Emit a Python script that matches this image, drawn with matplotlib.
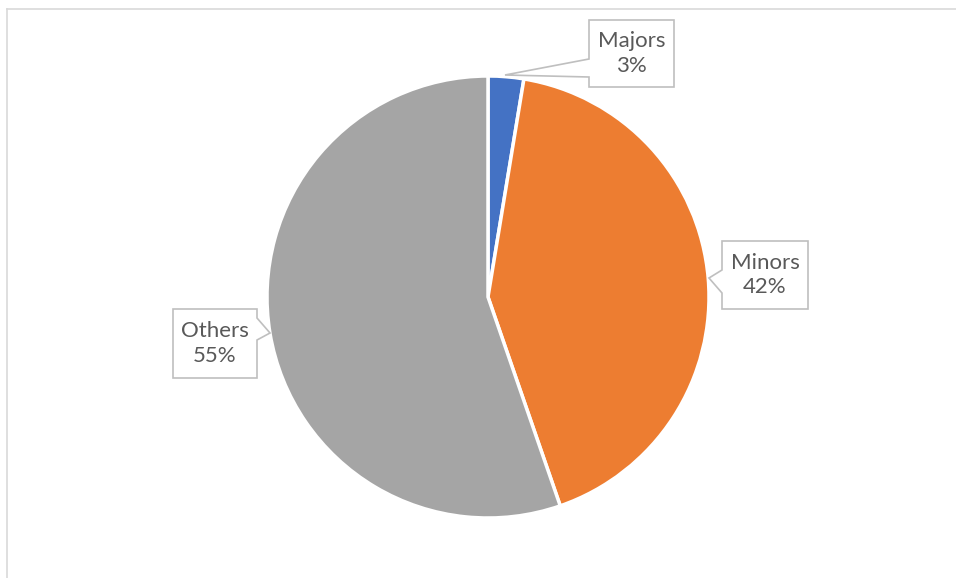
import numpy as np
import matplotlib.pyplot as plt
from matplotlib.patches import Polygon

plt.rcParams['font.family'] = ['Lato', 'DejaVu Sans']

categories = ['Majors', 'Minors', 'Others']
values = [2.6, 42.1, 55.3]
colors = ['#4472C4', '#ED7D31', '#A5A5A5']

# callout boxes in pixel coords (left, top, right, bottom), pointer tip, pointer base side
boxes = {
    'Majors': ((589, 20, 674, 87), (505, 75), ('left', 59, 77)),
    'Minors': ((722, 241, 808, 309), (709, 278), ('left', 270, 293)),
    'Others': ((173, 309, 257, 378), (270, 333), ('right', 318, 340)),
}

W, H = 956, 578
fig = plt.figure(figsize=(W / 100, H / 100), dpi=100)
ax = fig.add_axes([0, 0, 1, 1])

def py(y):
    return H - y

# chart area border (only top/left visible)
ax.plot([7, W], [py(9), py(9)], color='#D9D9D9', lw=1.2)
ax.plot([7, 7], [py(9), 0], color='#D9D9D9', lw=1.2)

ax.pie(values, colors=colors, startangle=90, counterclock=False,
       center=(488, py(297)), radius=221, frame=True,
       wedgeprops=dict(edgecolor='white', linewidth=2.5))
ax.set_xlim(0, W)
ax.set_ylim(0, H)
ax.set_aspect('equal')
ax.axis('off')

total = sum(values)
for cat, val in zip(categories, values):
    (l, t, r, b), tip, (side, y1, y2) = boxes[cat]
    if side == 'left':
        pts = [(l, t), (r, t), (r, b), (l, b), (l, y2), tip, (l, y1)]
    else:
        pts = [(l, t), (r, t), (r, y1), tip, (r, y2), (r, b), (l, b)]
    poly = Polygon([(x, py(y)) for x, y in pts], closed=True,
                   facecolor='white', edgecolor='#BFBFBF', lw=1.2, zorder=5)
    ax.add_patch(poly)
    pct = round(val / total * 100)
    ax.text((l + r) / 2, py((t + b) / 2), f'{cat}\n{pct}%', ha='center', va='center',
            fontsize=16, color='#595959', linespacing=1.3, zorder=6)

fig.savefig('out.png', dpi=100)
